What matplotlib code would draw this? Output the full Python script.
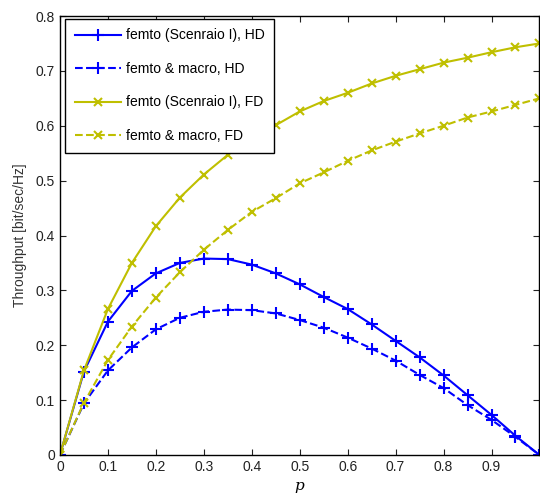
import numpy as np
import matplotlib
matplotlib.use('Agg')
import matplotlib.pyplot as plt

p = np.round(np.arange(0, 1.0001, 0.05), 2)

hd_femto = [0, 0.152, 0.243, 0.299, 0.331, 0.350, 0.358, 0.357, 0.347, 0.331, 0.311,
            0.288, 0.266, 0.238, 0.208, 0.178, 0.145, 0.109, 0.073, 0.035, 0]
hd_macro = [0, 0.094, 0.154, 0.196, 0.229, 0.250, 0.261, 0.265, 0.264, 0.258, 0.246,
            0.232, 0.214, 0.194, 0.172, 0.146, 0.122, 0.091, 0.064, 0.033, 0]
fd_femto = [0, 0.154, 0.266, 0.350, 0.417, 0.469, 0.511, 0.547, 0.577, 0.601, 0.626,
            0.645, 0.660, 0.677, 0.691, 0.703, 0.715, 0.724, 0.734, 0.743, 0.750]
fd_macro = [0, 0.095, 0.173, 0.234, 0.287, 0.333, 0.374, 0.410, 0.443, 0.468, 0.495,
            0.515, 0.536, 0.555, 0.571, 0.586, 0.600, 0.615, 0.626, 0.638, 0.650]

labels = ['femto (Scenraio I), HD', 'femto & macro, HD',
          'femto (Scenraio I), FD', 'femto & macro, FD']

plt.rcParams['font.family'] = ['Liberation Sans', 'DejaVu Sans']

blue = '#0000ff'
yellow = '#bfbf00'

fig = plt.figure(figsize=(5.4, 5.0), dpi=100)
ax = fig.add_axes([0.111, 0.09, 0.888, 0.878])

ax.plot(p, hd_femto, '-', color=blue, marker='+', ms=9, mew=1.5, lw=1.5, label=labels[0])
ax.plot(p, hd_macro, '--', color=blue, marker='+', ms=9, mew=1.5, lw=1.5, label=labels[1])
ax.plot(p, fd_femto, '-', color=yellow, marker='x', ms=6, mew=1.5, lw=1.5, label=labels[2])
ax.plot(p, fd_macro, '--', color=yellow, marker='x', ms=6, mew=1.5, lw=1.5, label=labels[3])

ax.set_xlim(0, 1)
ax.set_ylim(0, 0.8)
ax.set_xticks(np.round(np.arange(0, 0.91, 0.1), 1))
ax.set_xticklabels(['0'] + ['%.1f' % v for v in np.arange(0.1, 0.91, 0.1)])
ax.set_yticks(np.round(np.arange(0, 0.81, 0.1), 1))
ax.set_yticklabels(['0'] + ['%.1f' % v for v in np.arange(0.1, 0.81, 0.1)])
ax.tick_params(direction='in', top=True, right=True, labelsize=10, length=4, colors='#222222')
for s in ax.spines.values():
    s.set_linewidth(1.0)

ax.set_ylabel('Throughput [bit/sec/Hz]', fontsize=10, color='#333333', labelpad=6)
ax.set_xlabel('p', fontsize=11, family='DejaVu Serif', style='italic', labelpad=4)

leg = ax.legend(loc='upper left', fontsize=10, fancybox=False, edgecolor='black',
                framealpha=1, handlelength=3.3, handletextpad=0.35, labelspacing=1.4,
                borderpad=0.7, borderaxespad=0.2, bbox_to_anchor=(0.005, 1.0))
leg.get_frame().set_linewidth(1.0)

fig.savefig('out.png', dpi=100)
